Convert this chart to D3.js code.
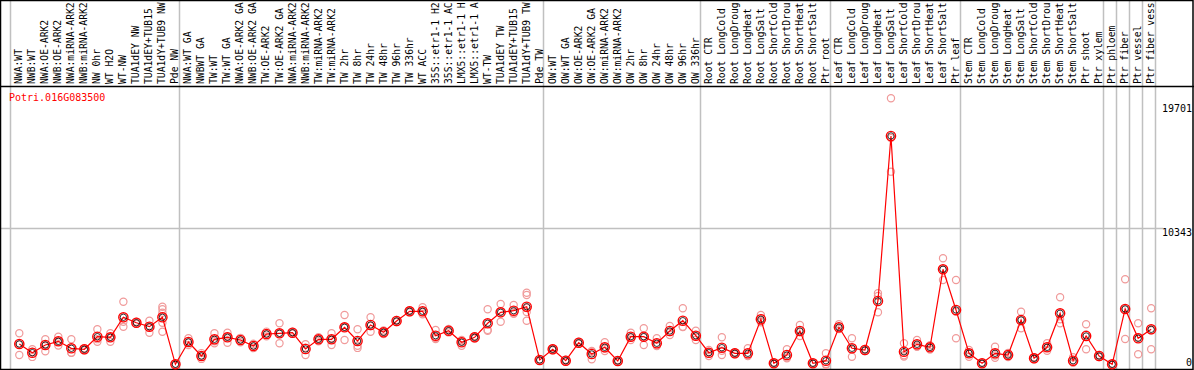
<!DOCTYPE html>
<html><head><meta charset="utf-8">
<script src="https://cdn.jsdelivr.net/npm/d3@7"></script>
<style>
html,body{margin:0;padding:0;background:#fff;}
svg{display:block;font-family:"DejaVu Sans Mono",monospace;font-size:10px;}
</style></head>
<body><svg id="chart" width="1194" height="370"></svg>
<script>
const geneName = "Potri.016G083500";
const categories = [
"NWA:WT","NWB:WT","NWA:OE-ARK2","NWB:OE-ARK2","NWA:miRNA-ARK2","NWB:miRNA-ARK2","NW 0hr","WT H2O","WT-NW","TUA1dEY NW","TUA1dEY+TUB15 NW","TUA1dY+TUB9 NW","Pde NW",
"NWA:WT GA","NWBWT GA","TW:WT","TW:WT GA","NWA:OE-ARK2 GA","NWB:OE-ARK2 GA","TW:OE-ARK2","TW:OE-ARK2 GA","NWA:miRNA-ARK2","NWB:miRNA-ARK2","TW:miRNA-ARK2","TW:miRNA-ARK2","TW 2hr","TW 8hr","TW 24hr","TW 48hr","TW 96hr","TW 336hr","WT ACC","35S::etr1-1 H2O","35S::etr1-1 ACC","LMX5::etr1-1 H2O","LMX5::etr1-1 ACC","WT-TW","TUA1dEY TW","TUA1dEY+TUB15 TW","TUA1dY+TUB9 TW","Pde TW",
"OW:WT","OW:WT GA","OW:OE-ARK2","OW:OE-ARK2 GA","OW:miRNA-ARK2","OW:miRNA-ARK2","OW 2hr","OW 8hr","OW 24hr","OW 48hr","OW 96hr","OW 336hr",
"Root CTR","Root LongCold","Root LongDrought","Root LongHeat","Root LongSalt","Root ShortCold","Root ShortDrought","Root ShortHeat","Root ShortSalt","Ptr root",
"Leaf CTR","Leaf LongCold","Leaf LongDrought","Leaf LongHeat","Leaf LongSalt","Leaf ShortCold","Leaf ShortDrought","Leaf ShortHeat","Leaf ShortSalt","Ptr leaf",
"Stem CTR","Stem LongCold","Stem LongDrought","Stem LongHeat","Stem LongSalt","Stem ShortCold","Stem ShortDrought","Stem ShortHeat","Stem ShortSalt","Ptr shoot","Ptr xylem",
"Ptr phloem","Ptr fiber","Ptr vessel","Ptr fiber vessel"
];
const means = [
1586,929,1510,1789,1261,1185,2137,2091,3601,3190,2892,3601,53,
1737,680,1940,2091,1888,1435,2341,2393,2439,1208,1940,1940,2846,1812,3020,2469,3322,4054,4054,2212,2590,1714,2091,3149,3979,4100,4402,378,
1185,325,1684,831,1336,302,2137,2137,1638,2567,3345,2212,
929,1306,883,883,3450,128,755,2567,128,325,
2846,1261,1133,4832,17290,1004,1563,1336,7225,4153,
883,128,883,755,3398,506,1336,3903,325,2190,680,
53,4228,2016,2695
];
const replicates = [
[2393,1586,755],[1185,990,610],[1940,1510,1034],[2137,1760,1470],[1940,920,920],[1260,1185,1110],[2700,1950,1760],[2393,1759,2120],[4779,3269,2892],[3260,3190,3120],[3345,2439,2892],[4402,4205,3949,3194,2514],[60,53,45],
[2016,1737,1510],[900,680,460],[2393,1638,1790],[2439,1684,2150],[2050,1888,1720],[1600,1435,1270],[2520,2341,2160],[3149,1638,2393],[2520,2439,2360],[1563,755,1300],[2090,1940,1790],[2393,1510,1920],[3775,1888,2876],[2695,1450,1290],[3601,2514,2945],[2600,2469,2340],[3400,3322,3240],[4130,4054,3980],[4356,3979,3827],[2643,2039,1955],[2720,2590,2460],[1888,1457,1797],[2180,2091,2000],[4205,2590,2650],[4606,3269,4062],[4530,3903,3867],[5459,5285,4300,4000,3345],[420,378,330],
[1260,1185,1110],[400,325,250],[1760,1684,1600],[1057,430,1000],[1714,1057,1240],[370,302,235],[2439,1888,2085],[2771,1510,2130],[2016,1435,1465],[2945,2265,2490],[4281,2892,2862],[2590,1888,2160],
[1133,680,975],[2091,755,1072],[960,883,806],[1261,680,710],[3775,3345,3230],[180,128,76],[1185,506,575],[3020,2190,2491],[170,128,86],[883,75,17],
[3073,2718,2747],[2016,627,1140],[1210,1133,1056],[5413,5210,3979],[20136,14594,17140],[1638,740,640],[1888,1382,1420],[1500,1336,1170],[8056,6418,7200],[6418,2016,4025],
[1133,627,890],[170,128,86],[1382,551,716],[906,755,604],[4024,2771,3398],[580,506,430],[1638,1080,1290],[5111,3149,3450],[581,230,164],[3073,1185,2310],[760,680,600],
[80,53,26],[6470,1963,4250],[3149,808,2091],[4281,1185,2620]
];
const groupBreaks = [0,13,41,53,63,73,84,85,86,87,88];
const yTicks = [0,10343,19701];
const maxLabelChars = 14;

const W = 1194, H = 370, headerH = 86;
const svg = d3.select("#chart");
const n = categories.length;
const x = d3.scaleLinear().domain([0, n]).range([10, 10 + 13.01 * n]);
const y = d3.scaleLinear().domain([0, 19701]).range([365, 104]);
const px = i => x(i) + 9.3;

// vertical separators
svg.append("g").selectAll("line").data(groupBreaks).join("line")
  .attr("x1", d => Math.round(x(d)) + 0.5).attr("x2", d => Math.round(x(d)) + 0.5)
  .attr("y1", 0).attr("y2", H).attr("stroke", "#c0c0c0").attr("stroke-width", 1.5);

// horizontal grid at middle tick
svg.append("g").selectAll("line").data(yTicks.filter(t => t > 0 && t < 19701)).join("line")
  .attr("x1", 1).attr("x2", 1163)
  .attr("y1", d => Math.round(y(d)) + 0.5).attr("y2", d => Math.round(y(d)) + 0.5)
  .attr("stroke", "#c0c0c0").attr("stroke-width", 1.5);

// header labels (shown truncated, as in the reference)
svg.append("g").selectAll("text").data(categories).join("text")
  .attr("transform", (d,i) => `translate(${x(i) + 12.3},84) rotate(-90)`)
  .attr("font-size", "9.7px")
  .attr("fill", "#000").text(d => d.slice(0, maxLabelChars));

// borders
svg.append("rect").attr("x",0.5).attr("y",0.5).attr("width",W-1.5).attr("height",H-1)
  .attr("fill","none").attr("stroke","#000").attr("stroke-width",1.5);
svg.append("line").attr("x1",0).attr("x2",W).attr("y1",headerH+0.5).attr("y2",headerH+0.5)
  .attr("stroke","#000").attr("stroke-width",1.5);

// gene title
svg.append("text").attr("x", 9).attr("y", 100.5).attr("fill", "#ff0000").text(geneName);

// y tick labels
svg.append("g").selectAll("text").data(yTicks).join("text")
  .attr("x", 1192).attr("text-anchor","end")
  .attr("y", d => Math.min(y(d) + 8, 365.5))
  .attr("fill","#000").text(d => d);

// replicates
const repPts = [];
replicates.forEach((arr,i) => arr.forEach(v => repPts.push({i, v})));
svg.append("g").selectAll("circle").data(repPts).join("circle")
  .attr("cx", d => px(d.i)).attr("cy", d => y(d.v)).attr("r", 3.6)
  .attr("fill","none").attr("stroke","#f09a9a").attr("stroke-width",1.2);

// mean line
svg.append("path").datum(means)
  .attr("d", d3.line().x((d,i) => px(i)).y(d => y(d)))
  .attr("fill","none").attr("stroke","#ff0000").attr("stroke-width",1.2);

// mean markers
const mg = svg.append("g").selectAll("g").data(means).join("g")
  .attr("transform",(d,i) => `translate(${px(i)},${y(d)})`);
mg.append("circle").attr("r",4.6).attr("fill","none").attr("stroke","#ff0000").attr("stroke-width",1.4);
mg.append("circle").attr("r",3.2).attr("fill","none").attr("stroke","#000").attr("stroke-width",0.8);
</script></body></html>
